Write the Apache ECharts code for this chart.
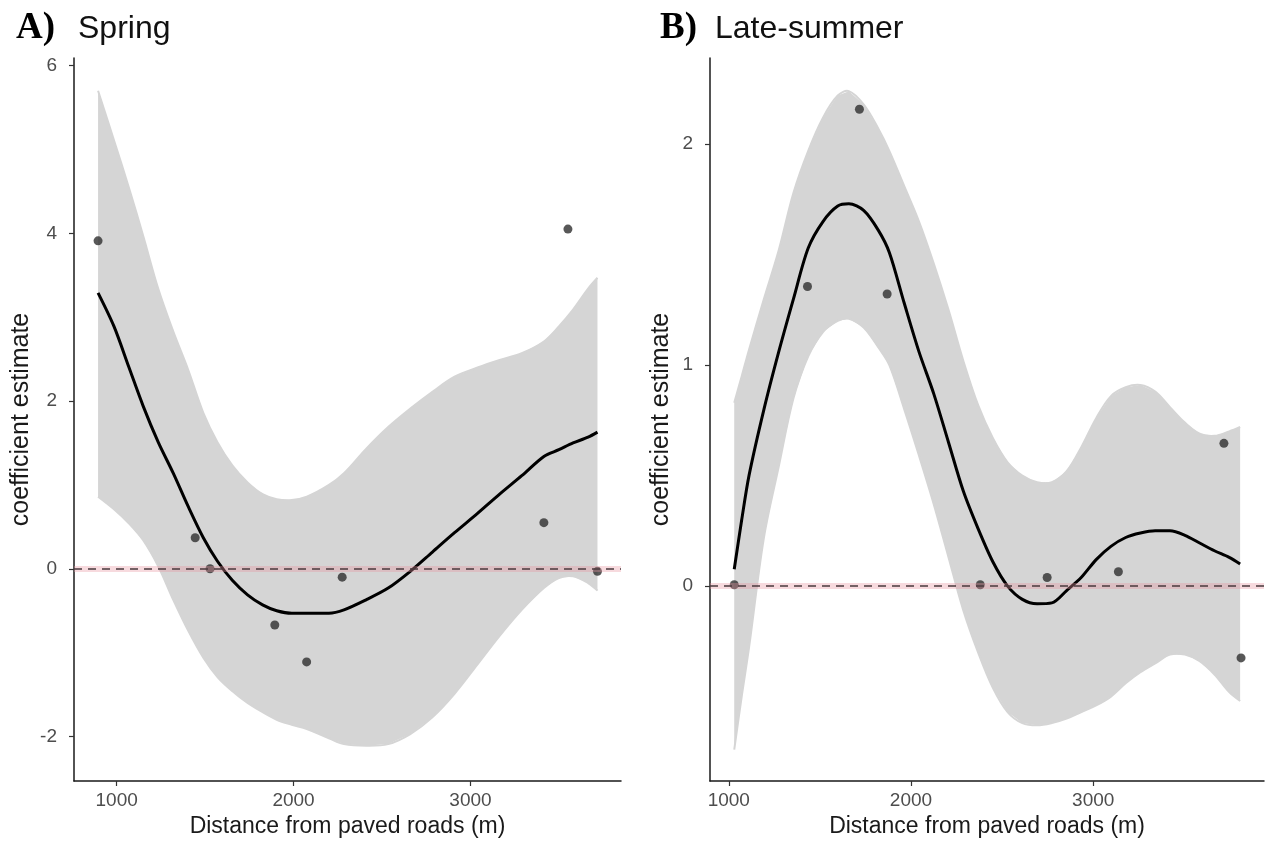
<!DOCTYPE html>
<html>
<head>
<meta charset="utf-8">
<script src="https://cdn.jsdelivr.net/npm/echarts@6/dist/echarts.min.js"></script>
<style>
  html, body { margin: 0; padding: 0; background: #ffffff; }
  #chart { width: 1269px; height: 857px; }
</style>
</head>
<body>
<div id="chart"></div>
<script>
// ---- Panel A: Spring ----
const springPointX = [895, 1444, 1528, 1894, 2074, 2275, 3415, 3551, 3718];
const springPointY = [3.91, 0.37, 0.0, -0.67, -1.11, -0.10, 0.55, 4.05, -0.03];

const springFitX = [895, 985, 1070, 1150, 1235, 1320, 1405, 1490, 1570, 1655, 1740, 1825, 1905, 1990, 2075,
  2200, 2285, 2410, 2535, 2660, 2785, 2910, 3040, 3165, 3290, 3415, 3500, 3580, 3665, 3718];
const springFit = [3.29, 2.89, 2.40, 1.94, 1.51, 1.14, 0.74, 0.37, 0.09, -0.14, -0.31, -0.43, -0.50, -0.53, -0.53,
  -0.53, -0.49, -0.37, -0.23, -0.03, 0.20, 0.43, 0.66, 0.89, 1.11, 1.34, 1.42, 1.50, 1.57, 1.63];
const springUpper = [5.70, 5.11, 4.54, 3.97, 3.34, 2.83, 2.37, 1.86, 1.51, 1.23, 1.03, 0.89, 0.83, 0.82, 0.86,
  1.00, 1.14, 1.43, 1.69, 1.91, 2.11, 2.29, 2.40, 2.49, 2.57, 2.71, 2.89, 3.09, 3.34, 3.47];
const springLower = [0.86, 0.71, 0.54, 0.34, 0.03, -0.37, -0.74, -1.06, -1.29, -1.46, -1.60, -1.71, -1.80, -1.86, -1.91,
  -2.02, -2.09, -2.11, -2.09, -1.97, -1.77, -1.49, -1.14, -0.80, -0.49, -0.23, -0.11, -0.09, -0.17, -0.26];

// ---- Panel B: Late-summer ----
const lateSummerPointX = [1030, 1432, 1717, 1869, 2380, 2747, 3138, 3717, 3811];
const lateSummerPointY = [0.006, 1.356, 2.158, 1.322, 0.006, 0.039, 0.065, 0.646, -0.325];

const lateSummerFitX = [1030, 1071, 1111, 1193, 1274, 1355, 1436, 1517, 1598, 1659, 1740, 1821, 1881, 1963, 2044,
  2125, 2206, 2287, 2368, 2449, 2530, 2611, 2692, 2773, 2854, 2935, 3016, 3097, 3178, 3259, 3340, 3421, 3503,
  3584, 3665, 3746, 3806];
const lateSummerFit = [0.076, 0.30, 0.50, 0.80, 1.06, 1.30, 1.53, 1.65, 1.72, 1.73, 1.70, 1.61, 1.51, 1.28, 1.06,
  0.87, 0.65, 0.43, 0.26, 0.11, 0.0, -0.06, -0.08, -0.076, -0.02, 0.04, 0.12, 0.18, 0.22, 0.24, 0.25, 0.25, 0.23,
  0.195, 0.16, 0.13, 0.10];
const lateSummerUpper = [0.83, 0.95, 1.07, 1.30, 1.52, 1.78, 1.97, 2.12, 2.22, 2.24, 2.18, 2.07, 1.97, 1.81, 1.65,
  1.46, 1.25, 1.02, 0.82, 0.67, 0.56, 0.50, 0.47, 0.47, 0.52, 0.63, 0.76, 0.86, 0.90, 0.91, 0.88, 0.81, 0.74,
  0.69, 0.68, 0.70, 0.72];
const lateSummerLower = [-0.74, -0.50, -0.28, 0.22, 0.54, 0.85, 1.04, 1.15, 1.20, 1.21, 1.17, 1.08, 1.00, 0.80, 0.59,
  0.37, 0.13, -0.11, -0.30, -0.46, -0.57, -0.62, -0.63, -0.62, -0.60, -0.57, -0.54, -0.50, -0.44, -0.39, -0.35,
  -0.31, -0.31, -0.34, -0.40, -0.48, -0.52];

// ---- Axis ticks ----
const xTicks = [1000, 2000, 3000];
const springYTicks = [-2, 0, 2, 4, 6];
const lateSummerYTicks = [0, 1, 2];

const xTitle = 'Distance from paved roads (m)';
const yTitle = 'coefficient estimate';

const sansFont = '"Liberation Sans", Arial, sans-serif';
const serifFont = '"Liberation Serif", "Times New Roman", serif';
const tickColor = '#4d4d4d';
const ribbonColor = '#d5d5d5';

function zip(xs, ys) { return xs.map((x, i) => [x, ys[i]]); }

// Confidence ribbon: filled polygon between the upper and lower bounds,
// with smoothed strokes along both edges to soften the outline
function ribbon(xs, lo, hi, idx) {
  const rows = xs.map((x, i) => [x, lo[i], hi[i]]);
  return {
    type: 'custom',
    xAxisIndex: idx, yAxisIndex: idx,
    data: rows,
    encode: { x: 0, y: [1, 2] },
    silent: true,
    z: 1,
    renderItem: function (params, api) {
      if (params.dataIndex !== 0) return null;
      const top = rows.map(r => api.coord([r[0], r[2]]));
      const bottom = rows.map(r => api.coord([r[0], r[1]]));
      return {
        type: 'group',
        children: [
          {
            type: 'polygon',
            shape: { points: top.concat(bottom.slice().reverse()) },
            style: { fill: ribbonColor }
          },
          {
            type: 'polyline',
            shape: { points: top, smooth: 0.35 },
            style: { stroke: ribbonColor, lineWidth: 2, fill: null }
          },
          {
            type: 'polyline',
            shape: { points: bottom, smooth: 0.35 },
            style: { stroke: ribbonColor, lineWidth: 2, fill: null }
          }
        ]
      };
    }
  };
}

// Reference line at zero: soft pink strip under a dark dashed rule
function zeroLine(idx) {
  return {
    type: 'line', xAxisIndex: idx, yAxisIndex: idx, data: [], z: 2, silent: true,
    markLine: {
      silent: true, symbol: 'none', label: { show: false },
      data: [
        { yAxis: 0, lineStyle: { color: 'rgba(232,150,160,0.35)', width: 6, type: 'solid' } },
        { yAxis: 0, lineStyle: { color: '#4a3a3e', width: 1.5, type: [8, 6] } }
      ]
    }
  };
}

function fitLine(xs, ys, idx) {
  return {
    type: 'line', xAxisIndex: idx, yAxisIndex: idx, data: zip(xs, ys),
    smooth: 0.3, symbol: 'none', z: 3, silent: true,
    lineStyle: { color: '#000000', width: 3 }
  };
}

function points(xs, ys, idx) {
  return {
    type: 'scatter', xAxisIndex: idx, yAxisIndex: idx, data: zip(xs, ys),
    symbolSize: 9, z: 4, silent: true,
    itemStyle: { color: '#2e2e2e' }
  };
}

const plainNumber = v => String(v);

function xAxis(idx, min, max) {
  return {
    type: 'value', gridIndex: idx, min: min, max: max,
    name: xTitle, nameLocation: 'middle', nameGap: 34,
    nameTextStyle: { fontFamily: sansFont, fontSize: 23, color: '#1a1a1a' },
    axisLine: { show: true, onZero: false, lineStyle: { color: '#1a1a1a', width: 1.5 } },
    axisTick: { show: true, length: 5, customValues: xTicks, lineStyle: { color: '#333', width: 1.2 } },
    axisLabel: { customValues: xTicks, formatter: plainNumber, margin: 10, fontFamily: sansFont, fontSize: 19, color: tickColor },
    splitLine: { show: false }
  };
}

function yAxis(idx, min, max, ticks, gap) {
  return {
    type: 'value', gridIndex: idx, min: min, max: max,
    name: yTitle, nameLocation: 'middle', nameGap: gap, nameRotate: 90,
    nameTextStyle: { fontFamily: sansFont, fontSize: 25, color: '#1a1a1a' },
    axisLine: { show: true, onZero: false, lineStyle: { color: '#1a1a1a', width: 1.5 } },
    axisTick: { show: true, length: 5, customValues: ticks, lineStyle: { color: '#333', width: 1.2 } },
    axisLabel: { customValues: ticks, formatter: plainNumber, margin: 17, fontFamily: sansFont, fontSize: 19, color: tickColor },
    splitLine: { show: false }
  };
}

const chart = echarts.init(document.getElementById('chart'), null, { renderer: 'canvas' });

chart.setOption({
  backgroundColor: '#ffffff',
  animation: false,
  title: [
    { text: 'A)', left: 11, top: 5, textStyle: { fontFamily: serifFont, fontWeight: 'bold', fontSize: 37, color: '#000' } },
    { text: 'Spring', left: 73, top: 8, textStyle: { fontFamily: sansFont, fontWeight: 'normal', fontSize: 32, color: '#111' } },
    { text: 'B)', left: 655, top: 5, textStyle: { fontFamily: serifFont, fontWeight: 'bold', fontSize: 37, color: '#000' } },
    { text: 'Late-summer', left: 710, top: 8, textStyle: { fontFamily: sansFont, fontWeight: 'normal', fontSize: 32, color: '#111' } }
  ],
  grid: [
    { left: 74, top: 58, width: 547, height: 723 },
    { left: 710, top: 58, width: 554, height: 723 }
  ],
  xAxis: [xAxis(0, 759, 3851), xAxis(1, 897, 3937)],
  yAxis: [yAxis(0, -2.53, 6.09, springYTicks, 40), yAxis(1, -0.882, 2.39, lateSummerYTicks, 36)],
  series: [
    ribbon(springFitX, springLower, springUpper, 0),
    zeroLine(0),
    fitLine(springFitX, springFit, 0),
    points(springPointX, springPointY, 0),
    ribbon(lateSummerFitX, lateSummerLower, lateSummerUpper, 1),
    zeroLine(1),
    fitLine(lateSummerFitX, lateSummerFit, 1),
    points(lateSummerPointX, lateSummerPointY, 1)
  ]
});
</script>
</body>
</html>
